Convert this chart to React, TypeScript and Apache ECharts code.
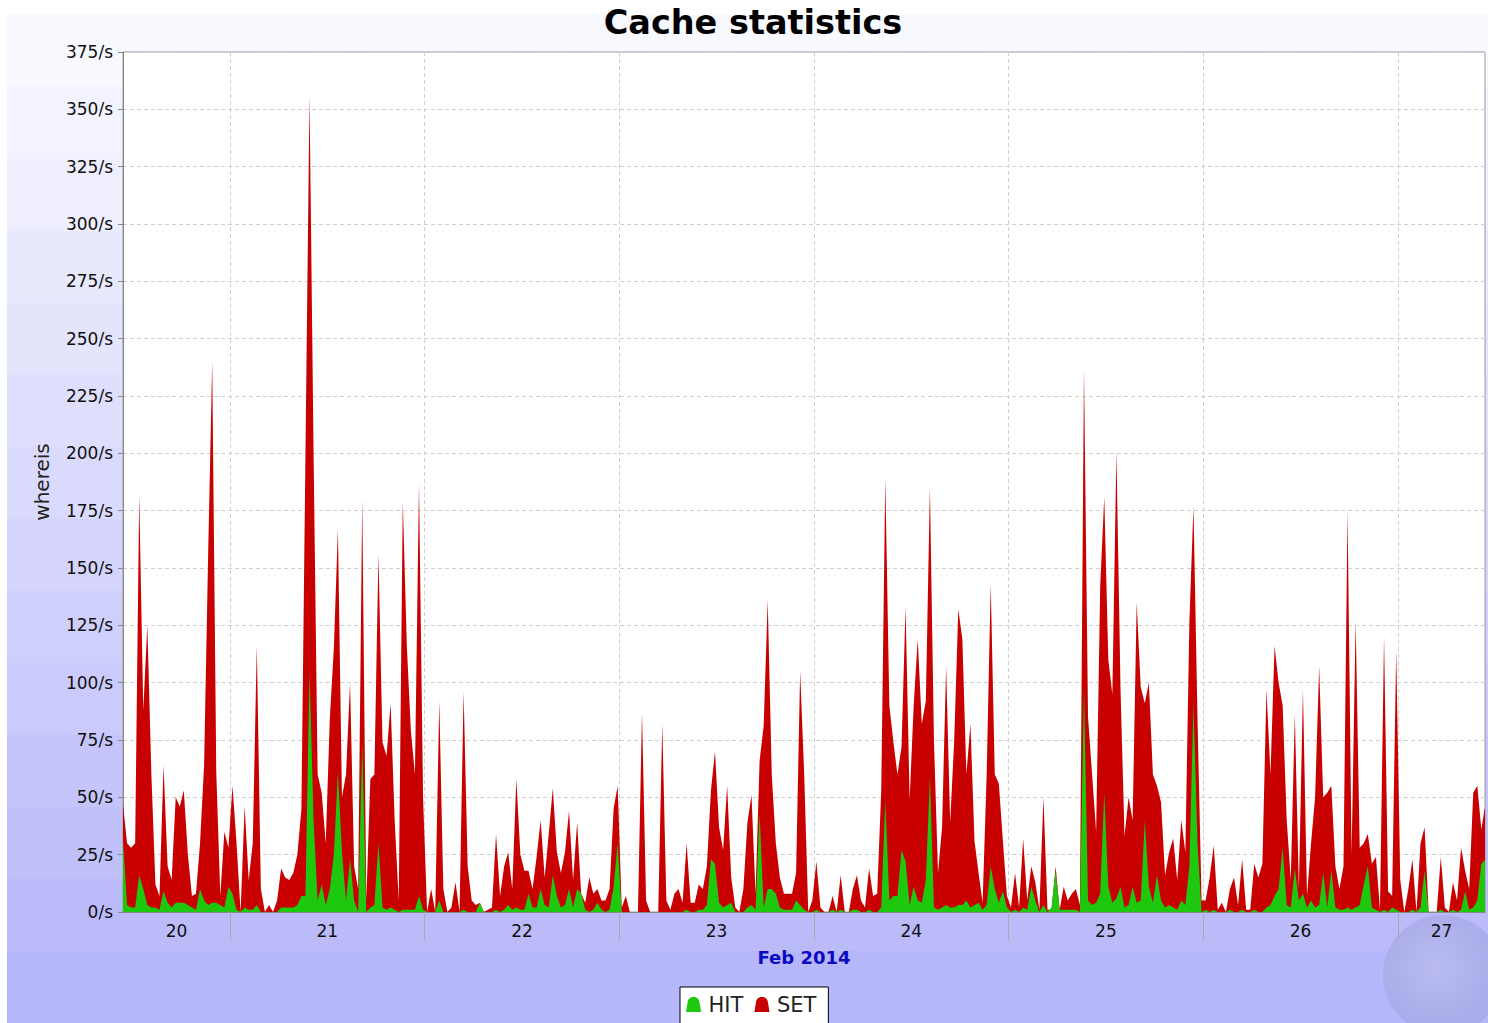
import React, { useEffect, useRef } from 'react';
import * as echarts from 'echarts';

// time axis: hours since 2014-02-20 00:00, one sample every half hour
const START_HOUR = 10.8;
const STEP_HOURS = 0.5;
const END_HOUR = 178.75;
const dayBoundaries = [24, 48, 72, 96, 120, 144, 168];
const dayLabelPositions = [17.4, 36, 60, 84, 108, 132, 156, 173.4];
const dayLabels = ['20', '21', '22', '23', '24', '25', '26', '27'];
const monthLabel = 'Feb 2014';
const yMin = 0;
const yMax = 375;
const yStep = 25;
const yUnit = '/s';
const yName = 'whereis';
const titleText = 'Cache statistics';
const seriesNames = ['HIT', 'SET'];

const setValues = [
  47, 30, 28, 30, 182, 88, 125, 60, 12, 7, 64, 20, 14, 50, 46, 53, 25, 7, 8, 30,
  64, 156, 240, 61, 7, 35, 28, 55, 30, 0, 46, 14, 30, 116, 10, 0, 3, 0, 5, 19,
  15, 14, 17, 25, 45, 200, 356, 200, 60, 52, 30, 84, 115, 167, 50, 60, 100, 20, 10, 180,
  5, 58, 60, 156, 74, 68, 91, 40, 5, 179, 116, 79, 60, 187, 50, 0, 10, 0, 92, 10,
  0, 2, 13, 0, 96, 20, 5, 3, 4, 0, 1, 2, 34, 7, 20, 26, 10, 58, 25, 18,
  18, 10, 24, 40, 15, 34, 54, 26, 17, 26, 44, 14, 39, 8, 4, 15, 8, 10, 5, 5,
  10, 45, 55, 2, 7, 0, 0, 0, 87, 5, 0, 0, 0, 82, 5, 1, 8, 10, 4, 30,
  4, 4, 12, 10, 20, 53, 70, 37, 27, 55, 15, 2, 0, 10, 39, 51, 8, 66, 81, 136,
  60, 30, 15, 8, 8, 8, 17, 105, 60, 0, 5, 22, 2, 0, 0, 7, 0, 16, 0, 0,
  10, 16, 5, 2, 19, 7, 8, 53, 189, 90, 74, 60, 72, 133, 49, 90, 119, 82, 92, 185,
  75, 17, 37, 107, 39, 75, 132, 119, 60, 82, 31, 17, 4, 60, 143, 60, 56, 31, 7, 2,
  17, 2, 32, 5, 20, 13, 1, 50, 1, 1, 20, 1, 11, 5, 8, 10, 3, 237, 85, 60,
  35, 142, 181, 110, 95, 201, 98, 33, 50, 40, 135, 98, 91, 100, 60, 55, 48, 16, 26, 32,
  14, 40, 26, 127, 177, 84, 5, 5, 15, 29, 1, 4, 0, 10, 15, 3, 23, 1, 1, 21,
  15, 21, 97, 60, 116, 100, 90, 40, 14, 86, 10, 97, 7, 30, 50, 107, 50, 52, 55, 20,
  10, 20, 175, 25, 127, 28, 30, 34, 21, 24, 1, 120, 9, 7, 114, 14, 0, 10, 23, 0,
  30, 37, 0, 0, 0, 24, 2, 0, 13, 5, 28, 18, 10, 52, 55, 36, 47,
];

const hitValues = [
  31, 3, 2, 2, 16, 10, 3, 2, 2, 1, 9, 4, 2, 4, 4, 4, 3, 2, 1, 10,
  5, 3, 4, 4, 3, 2, 11, 8, 1, 0, 2, 1, 1, 3, 0, 0, 0, 0, 0, 2,
  2, 2, 2, 3, 7, 7, 105, 40, 5, 12, 3, 10, 25, 61, 26, 5, 23, 5, 0, 74,
  0, 2, 3, 30, 2, 1, 2, 1, 0, 1, 1, 1, 1, 7, 1, 0, 0, 0, 5, 0,
  0, 0, 0, 0, 1, 0, 0, 0, 4, 0, 0, 0, 1, 0, 1, 3, 1, 2, 1, 1,
  8, 2, 2, 10, 3, 2, 16, 7, 2, 3, 10, 2, 10, 8, 1, 0, 1, 4, 1, 0,
  1, 11, 30, 0, 0, 0, 0, 0, 0, 0, 0, 0, 0, 0, 0, 0, 0, 0, 0, 1,
  0, 0, 1, 1, 3, 23, 21, 4, 2, 3, 4, 0, 0, 0, 2, 3, 1, 43, 2, 10,
  10, 8, 2, 1, 1, 1, 5, 3, 1, 0, 0, 1, 0, 0, 0, 1, 0, 1, 0, 0,
  1, 1, 0, 0, 1, 0, 0, 2, 49, 5, 7, 7, 27, 22, 3, 11, 5, 4, 14, 59,
  2, 1, 2, 3, 2, 2, 3, 3, 5, 2, 3, 4, 1, 3, 20, 10, 4, 9, 2, 0,
  1, 0, 2, 1, 11, 5, 0, 3, 0, 2, 18, 1, 1, 1, 1, 1, 0, 98, 5, 3,
  4, 8, 52, 11, 4, 6, 11, 2, 3, 11, 4, 5, 40, 11, 4, 16, 5, 2, 3, 2,
  1, 5, 3, 20, 91, 30, 0, 1, 0, 1, 0, 0, 0, 1, 0, 0, 1, 0, 0, 1,
  0, 0, 2, 3, 7, 10, 28, 3, 2, 19, 5, 8, 2, 5, 2, 3, 17, 2, 18, 2,
  1, 1, 2, 1, 2, 3, 12, 20, 2, 1, 0, 1, 0, 2, 1, 0, 0, 0, 1, 0,
  2, 18, 0, 0, 0, 1, 0, 0, 1, 0, 1, 9, 1, 2, 5, 21, 23,
];

const BELL = 'path://M1,16 L2.5,7 C3,0.5 13,0.5 13.5,7 L15,16 Z';

function toPairs(values: number[]) {
  return values.map((v, i) => [START_HOUR + i * STEP_HOURS, v]);
}

function bandGradient(): string {
  const bands = 14;
  const top = [248, 248, 255];
  const bottom = [182, 182, 250];
  const parts: string[] = [];
  for (let k = 0; k < bands; k++) {
    const t = k / (bands - 1);
    const c = top.map((a, j) => Math.round(a + (bottom[j] - a) * t));
    const col = `rgb(${c[0]},${c[1]},${c[2]})`;
    parts.push(`${col} ${(k * 100) / bands}%`, `${col} ${((k + 1) * 100) / bands}%`);
  }
  return `linear-gradient(to bottom, ${parts.join(', ')})`;
}

export default function App() {
  const ref = useRef<HTMLDivElement>(null);

  useEffect(() => {
    document.body.style.margin = '0';
    if (!ref.current) return;
    const chart = echarts.init(ref.current, null, { renderer: 'svg' });
    const font = 'DejaVu Sans';
    chart.setOption({
      animation: false,
      backgroundColor: 'transparent',
      graphic: [
        {
          type: 'text',
          x: 753,
          y: 22,
          style: {
            text: titleText,
            font: `bold 33.5px "${font}"`,
            fill: '#000',
            textAlign: 'center',
            textVerticalAlign: 'middle',
          },
        },
      ],
      legend: {
        data: [
          { name: seriesNames[0], icon: BELL },
          { name: seriesNames[1], icon: BELL },
        ],
        left: 680,
        top: 987,
        orient: 'horizontal',
        backgroundColor: '#fff',
        borderColor: '#000',
        borderWidth: 1,
        borderRadius: 0,
        padding: [7, 12, 14, 6],
        itemWidth: 16,
        itemHeight: 15,
        itemGap: 11,
        textStyle: { fontSize: 21, color: '#222', fontFamily: font, padding: [0, 0, 0, 2] },
      },
      grid: {
        left: 123,
        top: 52,
        right: 3,
        bottom: 111,
        show: true,
        backgroundColor: '#fff',
        borderColor: '#999',
        borderWidth: 1,
      },
      xAxis: {
        type: 'value',
        min: START_HOUR,
        max: END_HOUR,
        name: monthLabel,
        nameLocation: 'middle',
        nameGap: 36,
        nameTextStyle: { color: '#0a0ac0', fontWeight: 'bold', fontSize: 18, fontFamily: font },
        axisLine: { show: true, lineStyle: { color: '#888', width: 1 } },
        axisTick: {
          show: true,
          customValues: dayBoundaries,
          length: 28,
          lineStyle: { color: '#aaa', width: 1 },
        },
        axisLabel: {
          customValues: dayLabelPositions,
          margin: 10,
          fontSize: 17,
          color: '#111',
          fontFamily: font,
          formatter: (v: number) => {
            const idx = dayLabelPositions.findIndex((p) => Math.abs(p - v) < 0.01);
            return idx >= 0 ? dayLabels[idx] : '';
          },
        },
        splitLine: {
          show: true,
          lineStyle: { color: '#d0d0d0', type: [4, 3], width: 1 },
        },
      },
      yAxis: {
        type: 'value',
        min: yMin,
        max: yMax,
        interval: yStep,
        name: yName,
        nameLocation: 'middle',
        nameGap: 71,
        nameTextStyle: { fontSize: 20, color: '#222', fontFamily: font },
        axisLine: { show: true, lineStyle: { color: '#888', width: 1 } },
        axisTick: { show: true, length: 5, lineStyle: { color: '#888' } },
        axisLabel: {
          fontSize: 17,
          color: '#111',
          fontFamily: font,
          margin: 10,
          formatter: (v: number) => `${v}${yUnit}`,
        },
        splitLine: { show: true, lineStyle: { color: '#d0d0d0', type: [4, 3], width: 1 } },
      },
      series: [
        {
          name: seriesNames[1],
          type: 'line',
          data: toPairs(setValues),
          symbol: 'none',
          showSymbol: false,
          lineStyle: { width: 0, color: '#c80000' },
          itemStyle: { color: '#c80000' },
          areaStyle: { color: '#c80000', opacity: 1 },
          z: 2,
        },
        {
          name: seriesNames[0],
          type: 'line',
          data: toPairs(hitValues),
          symbol: 'none',
          showSymbol: false,
          lineStyle: { width: 0, color: '#1ec80f' },
          itemStyle: { color: '#1ec80f' },
          areaStyle: { color: '#1ec80f', opacity: 1 },
          z: 3,
        },
      ],
    });
    return () => chart.dispose();
  }, []);

  return (
    <div style={{ position: 'relative', width: 1488, height: 1023, background: '#fff', overflow: 'hidden' }}>
      <div
        style={{
          position: 'absolute',
          left: 7,
          top: 15,
          width: 1481,
          height: 1008,
          background: bandGradient(),
        }}
      />
      <div
        style={{
          position: 'absolute',
          left: 1383,
          top: 915,
          width: 120,
          height: 120,
          borderRadius: '50%',
          background:
            'radial-gradient(circle at 45% 45%, rgba(185,188,240,0.9) 0%, rgba(170,172,232,0.85) 55%, rgba(160,162,226,0.75) 100%)',
        }}
      />
      <div ref={ref} style={{ position: 'absolute', left: 0, top: 0, width: 1488, height: 1023 }} />
    </div>
  );
}
